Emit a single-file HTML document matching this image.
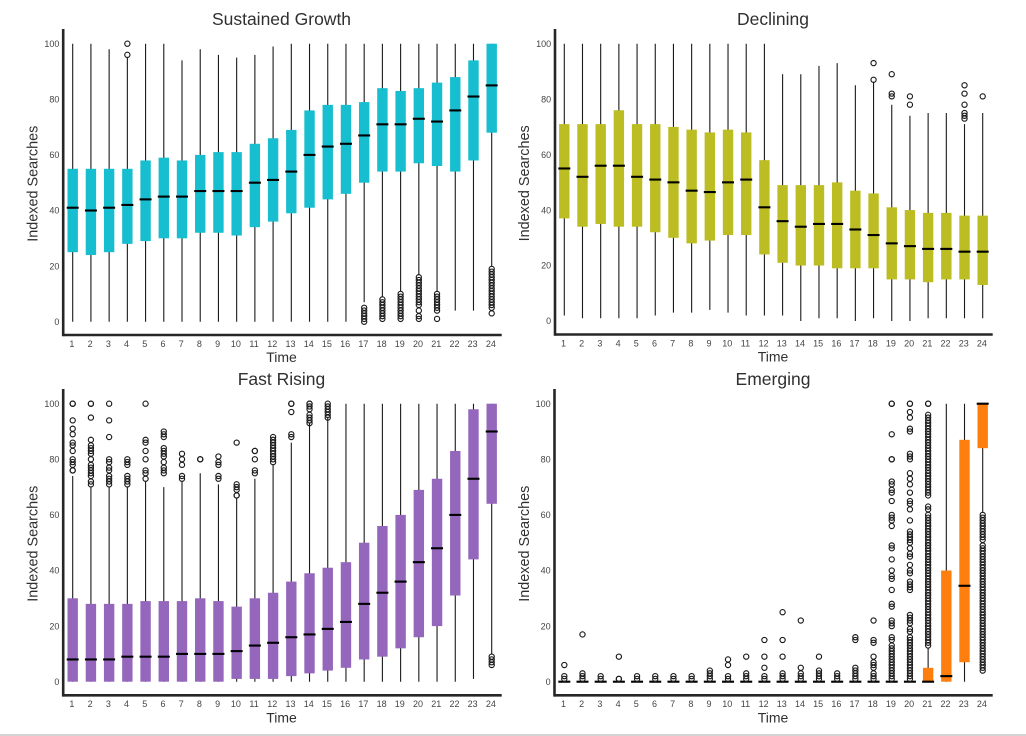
<!DOCTYPE html>
<html lang="en">
<head>
<meta charset="utf-8">
<title>Indexed Searches by Trend Type</title>
<style>
html,body{margin:0;padding:0;background:#fff;width:1026px;height:736px;overflow:hidden}
svg{display:block;font-family:"Liberation Sans",Arial,sans-serif}
</style>
</head>
<body>
<svg id="chart" xmlns="http://www.w3.org/2000/svg" width="1026" height="736" viewBox="0 0 1026 736"></svg>
<script>
const timeLabels = [1,2,3,4,5,6,7,8,9,10,11,12,13,14,15,16,17,18,19,20,21,22,23,24];
const yTickLabels = [0,20,40,60,80,100];

const growthMedian = [41,40,41,42,44,45,45,47,47,47,50,51,54,60,63,64,67,71,71,73,72,76,81,85];
const growthQ1 = [25,24,25,28,29,30,30,32,32,31,34,36,39,41,44,46,50,54,54,57,56,54,58,68];
const growthQ3 = [55,55,55,55,58,59,58,60,61,61,64,66,69,76,78,78,79,84,83,84,86,88,94,100];
const growthLow = [0,0,0,0,0,0,0,0,0,0,0,0,0,0,0,0,7,9,11,17,11,4,4,20];
const growthHigh = [100,100,98,95,100,100,94,98,96,95,96,99,100,100,100,100,100,100,100,100,100,100,100,100];
const growthFliers = [[],[],[],[100,96],[],[],[],[],[],[],[],[],[],[],[],[],
  [5,4,3,2,1,0],
  [8,7,6,5,4,3,2,1],
  [10,9,8,7,6,5,4,3,2,1],
  [16,15,14,13,12,11,10,9,8,7,6,4,2,1],
  [10,9,8,7,6,5,4,1],
  [],[],
  [19,18,17,16,15,14,13,12,11,10,9,8,7,6,5,3]];

const decliningMedian = [55,52,56,56,52,51,50,47,46.5,50,51,41,36,34,35,35,33,31,28,27,26,26,25,25];
const decliningQ1 = [37,34,35,34,34,32,30,28,29,31,31,24,21,20,20,19,19,19,15,15,14,15,15,13];
const decliningQ3 = [71,71,71,76,71,71,70,69,68,69,68,58,49,49,49,50,47,46,41,40,39,39,38,38];
const decliningLow = [2,1,1,1,1,2,3,3,4,3,2,2,2,0,1,1,0,1,0,0,1,1,1,1];
const decliningHigh = [100,100,100,100,100,100,100,100,100,100,100,100,89,89,92,93,85,86,78,74,75,75,71,75];
const decliningFliers = [[],[],[],[],[],[],[],[],[],[],[],[],[],[],[],[],[],
  [93,87],[89,82,81],[81,78],[],[],[85,82,78,75,74,73],[81]];

const risingMedian = [8,8,8,9,9,9,10,10,10,11,13,14,16,17,19,21.5,28,32,36,43,48,60,73,90];
const risingQ1 = [0,0,0,0,0,0,0,0,0,1,1,1,2,3,4,5,8,9,12,16,20,31,44,64];
const risingQ3 = [30,28,28,28,29,29,29,30,29,27,30,32,36,39,41,43,50,56,60,69,73,83,98,100];
const risingLow = [0,0,0,0,0,0,0,0,0,0,0,0,0,0,0,0,0,0,0,0,0,0,1,10];
const risingHigh = [74,70,70,70,72,70,72,75,71,66,73,78,86,93,95,100,100,100,100,100,100,100,100,100];
const risingFliers = [
  [100,100,94,91,89,86,85,83,80,79,78,76,76],
  [100,100,95,87,85,84,83,82,80,78,77,76,75,74,72,71],
  [100,94,88,80,79,77,76,74,73,72,71],
  [80,79,78,74,73,72,71],
  [100,87,86,83,80,76,75,73],
  [90,89,88,84,83,82,81,79,77,76,75],
  [82,80,78,74,73],
  [80,80],
  [81,79,78,74,73],
  [86,71,70,69,67,67],
  [83,83,80,76,75],
  [88,87,86,85,84,83,82,81,80,79],
  [100,100,97,89,88],
  [100,100,99,98,96,95,94,93],
  [100,99,98,97,96,95],
  [],[],[],[],[],[],[],[],
  [9,8,7,6]];

const emergingMedian = [0,0,0,0,0,0,0,0,0,0,0,0,0,0,0,0,0,0,0,0,0,2,34.5,100];
const emergingQ1 = [0,0,0,0,0,0,0,0,0,0,0,0,0,0,0,0,0,0,0,0,0,0,7,84];
const emergingQ3 = [0,0,0,0,0,0,0,0,0,0,0,0,0,0,0,0,0,0,0,0,5,40,87,100];
const emergingLow = [0,0,0,0,0,0,0,0,0,0,0,0,0,0,0,0,0,0,0,0,0,0,0,61];
const emergingHigh = [0,0,0,0,0,0,0,0,0,0,0,0,0,0,0,0,0,0,0,0,12,100,100,100];
const emergingFliers = [
  [6,2,1],[17,3,2,1],[2,1],[9,1,1],[2,1],[2,1],[2,1],[2,1],[4,3,2,1],[8,6,2,1],[9,3,2,1],[15,9,5,2,1],
  [25,15,9,3,2,1],[22,5,3,2,1],[9,4,3,2,1],[3,2,1],[16,15,5,4,3,2,1],[22,15,14,9,7,6,5,3,2,1],
  [100,100,89,80,80,72,71,69,68,65,60,59,58,56,49,48,44,40,38,37,33,28,27,22,21,20,16,15,13,12,11,10,9,8,7,6,5,4,3,2,1],
  [100,100,97,95,91,90,82,81,80,75,73,71,68,65,64,62,58,54,53,52,51,50,48,46,45,42,40,39,36,35,34,33,24,23,22,21,19,18,16,15,14,13,12,11,10,9,8,7,6,5,4,3,2,1],
  [100,100,96,95,94,93,92,91,90,89,88,87,86,85,84,83,82,81,80,79,78,77,76,75,74,73,72,71,70,69,68,67,63,62,60,59,58,57,56,55,54,53,52,51,50,49,48,47,46,45,44,43,42,41,40,39,38,37,36,35,34,33,32,31,30,29,28,27,26,25,24,23,22,21,20,19,18,17,16,15,14,13],
  [],[],
  [60,59,58,57,56,55,54,53,52,51,49,48,47,46,45,44,43,42,41,40,39,38,37,36,35,34,33,32,31,30,29,28,27,26,25,24,23,22,21,20,19,18,17,16,15,14,13,12,11,10,9,8,7,6,5,4]];

const panelTitles = ["Sustained Growth","Declining","Fast Rising","Emerging"];
const panelColors = ["#17becf","#bcbd22","#9467bd","#ff7f0e"];

const NS = "http://www.w3.org/2000/svg";
const svg = document.getElementById("chart");

function make(parent, tag, attrs, text) {
  const el = document.createElementNS(NS, tag);
  for (const k in attrs) el.setAttribute(k, attrs[k]);
  if (text !== undefined) el.textContent = text;
  parent.appendChild(el);
  return el;
}

function drawPanel(cfg) {
  const xScale = t => cfg.x1 + (t - 1) * (cfg.x24 - cfg.x1) / 23;
  const yScale = v => cfg.y0 + v * (cfg.y100 - cfg.y0) / 100;

  const g = make(svg, "g", {});
  
  

  const title = make(g, "text", {x: cfg.titleX, y: cfg.titleY, "text-anchor": "middle", "font-size": 17.5, fill: "#303030"}, cfg.title);
  
  

  const ylab = make(g, "text", {transform: `translate(${cfg.yLabelX},${(cfg.y0 + cfg.y100) / 2 + 1}) rotate(-90)`, "text-anchor": "middle", "font-size": 14.4, fill: "#303030"}, "Indexed Searches");
  
  

  const xlab = make(g, "text", {x: cfg.titleX, y: cfg.bottom + 27, "text-anchor": "middle", "font-size": 14, fill: "#303030"}, "Time");
  
  

  yTickLabels.forEach(v => {
    const t = make(g, "text", {x: cfg.left - 3.8, y: yScale(v) + 3.2, "text-anchor": "end", "font-size": 9, fill: "#444"}, v);
    
    
  });
  timeLabels.forEach((lab, i) => {
    const t = make(g, "text", {x: xScale(i + 1) - 0.8, y: cfg.bottom + 11.8, "text-anchor": "middle", "font-size": 9, fill: "#444"}, lab);
    
    
  });

  timeLabels.forEach((lab, i) => {
    const x = xScale(i + 1);
    const box = make(g, "g", {});
    
    
    make(box, "line", {x1: x, x2: x, y1: yScale(cfg.low[i]), y2: yScale(cfg.high[i]), stroke: "#1a1a1a", "stroke-width": 1.1});
    const hh = Math.max(yScale(cfg.q1[i]) - yScale(cfg.q3[i]), 0);
    make(box, "rect", {x: x - 5.2, y: yScale(cfg.q3[i]), width: 10.4, height: hh, fill: cfg.color});
    make(box, "line", {x1: x - 6, x2: x + 6, y1: yScale(cfg.median[i]), y2: yScale(cfg.median[i]), stroke: "#000", "stroke-width": 2.1});
    cfg.fliers[i].forEach(v => {
      make(box, "circle", {cx: x, cy: yScale(v), r: 2.6, fill: "none", stroke: "#1a1a1a", "stroke-width": 1.15});
    });
  });

  const ySpine = make(g, "line", {x1: cfg.left, x2: cfg.left, y1: cfg.top, y2: cfg.bottom + 1.3, stroke: "#262626", "stroke-width": 2.6});
  
  
  const xSpine = make(g, "line", {x1: cfg.left, x2: cfg.right, y1: cfg.bottom, y2: cfg.bottom, stroke: "#262626", "stroke-width": 2.6});
  
  
}

drawPanel({slug:"sustained-growth", title:panelTitles[0], color:panelColors[0], x1:72.7, x24:491.7, y0:321.7, y100:43.7, left:63.2, right:501.7, top:29, bottom:335, titleX:281.5, titleY:25, yLabelX:37.5,
  median:growthMedian, q1:growthQ1, q3:growthQ3, low:growthLow, high:growthHigh, fliers:growthFliers});
drawPanel({slug:"declining", title:panelTitles[1], color:panelColors[1], x1:564.3, x24:982.7, y0:321, y100:43.7, left:555, right:992.7, top:29, bottom:334.5, titleX:773, titleY:25, yLabelX:529,
  median:decliningMedian, q1:decliningQ1, q3:decliningQ3, low:decliningLow, high:decliningHigh, fliers:decliningFliers});
drawPanel({slug:"fast-rising", title:panelTitles[2], color:panelColors[2], x1:72.7, x24:491.7, y0:681.7, y100:403.7, left:63.2, right:501.7, top:389, bottom:695.3, titleX:281.5, titleY:385, yLabelX:37.5,
  median:risingMedian, q1:risingQ1, q3:risingQ3, low:risingLow, high:risingHigh, fliers:risingFliers});
drawPanel({slug:"emerging", title:panelTitles[3], color:panelColors[3], x1:564.3, x24:982.7, y0:681.7, y100:403.7, left:554.5, right:992.7, top:389, bottom:695.3, titleX:773, titleY:385, yLabelX:529,
  median:emergingMedian, q1:emergingQ1, q3:emergingQ3, low:emergingLow, high:emergingHigh, fliers:emergingFliers});

const pageEdge = make(svg, "rect", {x: 0, y: 734, width: 1026, height: 2, fill: "#d4d4d4"});


</script>
</body>
</html>
